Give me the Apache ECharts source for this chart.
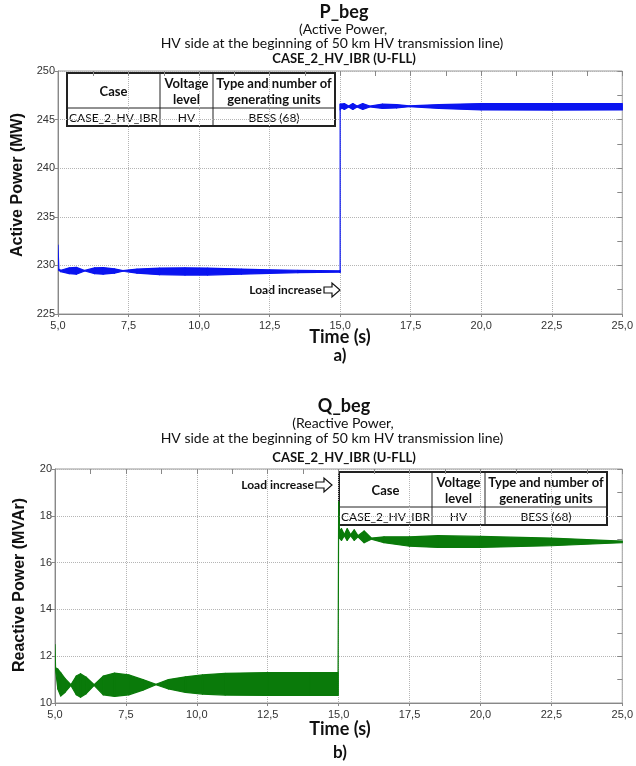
<!DOCTYPE html>
<html>
<head>
<meta charset="utf-8">
<script src="https://cdn.jsdelivr.net/npm/echarts@6/dist/echarts.min.js"></script>
<style>
html,body{margin:0;padding:0;background:#fff;}
#main{width:636px;height:766px;}
</style>
</head>
<body>
<div id="main"></div>
<script>
// ---------- DATA ----------
// Active power P_beg : oscillation envelope (lower / upper), MW
const pTime  = [5.0, 5.03, 5.1, 5.4, 5.65, 5.95, 6.3, 6.6, 7.0, 7.3, 7.8, 8.6, 9.5, 10.3, 11.5, 12.5, 13.5, 14.98, 15.0, 15.0, 15.05, 15.15, 15.3, 15.45, 15.6, 15.8, 16.05, 16.5, 17.0, 17.45, 18.5, 20.0, 22.5, 25.0];
const pLower = [232.1, 229.5, 229.35, 229.15, 229.1, 229.42, 229.15, 229.1, 229.2, 229.4, 229.2, 229.05, 229.0, 229.0, 229.1, 229.18, 229.25, 229.3, 229.3, 246.0, 246.2, 246.05, 246.3, 246.05, 246.3, 246.05, 246.3, 246.15, 246.2, 246.32, 246.15, 246.0, 245.98, 246.0];
const pUpper = [232.1, 229.6, 229.5, 229.75, 229.8, 229.48, 229.75, 229.78, 229.65, 229.47, 229.62, 229.72, 229.75, 229.72, 229.62, 229.55, 229.5, 229.45, 229.45, 246.6, 246.6, 246.65, 246.4, 246.65, 246.4, 246.65, 246.4, 246.6, 246.55, 246.42, 246.55, 246.65, 246.65, 246.65];

// Reactive power Q_beg : oscillation envelope (lower / upper), MVAr
const qTime  = [5.0, 5.02, 5.1, 5.2, 5.35, 5.56, 5.75, 5.9, 6.1, 6.38, 6.7, 7.1, 7.6, 8.1, 8.56, 9.0, 9.6, 10.2, 11.0, 12.5, 14.0, 14.98, 15.0, 15.03, 15.1, 15.2, 15.3, 15.42, 15.55, 15.68, 15.9, 16.15, 16.6, 17.5, 18.5, 20.0, 22.5, 25.0];
const qLower = [12.5, 11.4, 10.6, 10.3, 10.45, 10.75, 10.35, 10.25, 10.4, 10.75, 10.35, 10.28, 10.35, 10.55, 10.78, 10.6, 10.45, 10.38, 10.34, 10.32, 10.33, 10.33, 18.6, 17.05, 16.95, 17.15, 16.95, 17.15, 16.95, 17.1, 16.85, 17.0, 16.85, 16.7, 16.65, 16.65, 16.72, 16.85];
const qUpper = [12.5, 11.5, 11.45, 11.3, 11.05, 10.78, 11.15, 11.25, 11.1, 10.78, 11.15, 11.28, 11.2, 11.0, 10.8, 11.0, 11.12, 11.2, 11.27, 11.3, 11.3, 11.3, 18.6, 17.35, 17.45, 17.2, 17.45, 17.2, 17.4, 17.15, 17.35, 17.05, 17.1, 17.1, 17.15, 17.12, 17.05, 16.92];

// axes
const xMin = 5, xMax = 25, xStep = 2.5;
const pMin = 225, pMax = 250, pStep = 5;
const qMin = 10, qMax = 20, qStep = 2;

// texts
const pTitle = ['P_beg', '(Active Power,', 'HV side at the beginning of 50 km HV transmission line)', 'CASE_2_HV_IBR (U-FLL)'];
const qTitle = ['Q_beg', '(Reactive Power,', 'HV side at the beginning of 50 km HV transmission line)', 'CASE_2_HV_IBR (U-FLL)'];
const pYName = 'Active Power (MW)';
const qYName = 'Reactive Power (MVAr)';
const xName = 'Time (s)';
const panelLabels = ['a)', 'b)'];
const annotation = 'Load increase';
const tableHeader = ['Case', 'Voltage\nlevel', 'Type and number of\ngenerating units'];
const tableRow = ['CASE_2_HV_IBR', 'HV', 'BESS (68)'];

// ---------- CHART ----------
const chart = echarts.init(document.getElementById('main'), null, {renderer: 'canvas'});
const CAL = 'Lato, "Open Sans", sans-serif';
const ARI = '"Liberation Sans", Arial, sans-serif';

const grids = [
  {left: 58, right: 9, top: 71, height: 243},
  {left: 55, right: 10, top: 469, height: 234}
];
const ranges = [[pMin, pMax, pStep], [qMin, qMax, qStep]];
const xAxes = [], yAxes = [];
grids.forEach((g, i) => {
  xAxes.push({
    type: 'value', gridIndex: i, min: xMin, max: xMax, interval: xStep,
    axisLine: {show: true, onZero: false, lineStyle: {color: '#888', width: 1}},
    axisTick: {show: true, length: 3, lineStyle: {color: '#888'}},
    axisLabel: {color: '#333', fontFamily: ARI, fontSize: 11, margin: 6,
      formatter: v => v.toFixed(1).replace('.', ',')},
    splitLine: {show: true, lineStyle: {color: '#b5b5b5', type: [1, 1], width: 1}}
  });
  xAxes.push({
    type: 'value', gridIndex: i, min: xMin, max: xMax, interval: xStep / 2,
    axisLine: {show: false}, axisLabel: {show: false}, splitLine: {show: false},
    axisTick: {show: true, inside: true, length: 5, lineStyle: {color: '#888'}}
  });
  const r = ranges[i];
  yAxes.push({
    type: 'value', gridIndex: i, min: r[0], max: r[1], interval: r[2],
    axisLine: {show: true, onZero: false, lineStyle: {color: '#888', width: 1}},
    axisTick: {show: true, length: 3, lineStyle: {color: '#888'}},
    axisLabel: {color: '#333', fontFamily: ARI, fontSize: 11, margin: 3},
    splitLine: {show: true, lineStyle: {color: '#b5b5b5', type: [1, 1], width: 1}}
  });
  yAxes.push({
    type: 'value', gridIndex: i, min: r[0], max: r[1], interval: r[2] / 2,
    axisLine: {show: false}, axisLabel: {show: false}, splitLine: {show: false},
    axisTick: {show: true, inside: true, length: 5, lineStyle: {color: '#888'}}
  });
});

// envelope band drawn as polygons between consecutive points, through the axis scales
function bandSeries(times, lo, hi, color, gi) {
  const n = times.length;
  return {
    type: 'custom', xAxisIndex: gi * 2, yAxisIndex: gi * 2, silent: true, clip: true,
    data: times.map((t, k) => [t, lo[k], hi[k]]),
    encode: {x: 0, y: [1, 2]},
    renderItem: function (params, api) {
      const k = params.dataIndex;
      if (k >= n - 1) return null;
      const a = api.coord([times[k], lo[k]]);
      const b = api.coord([times[k + 1], lo[k + 1]]);
      const c = api.coord([times[k + 1], hi[k + 1]]);
      const d = api.coord([times[k], hi[k]]);
      return {
        type: 'polygon',
        shape: {points: [a, b, c, d]},
        style: {fill: color, stroke: color, lineWidth: 1.2, lineJoin: 'round'}
      };
    }
  };
}

function titleTexts(lines, ys, cx) {
  const fonts = ['bold 18px ' + CAL, '14px ' + CAL, '14px ' + CAL, 'bold 13px ' + CAL];
  return lines.map((s, k) => ({
    type: 'text', x: cx[k], y: ys[k], silent: true,
    style: {text: s, font: fonts[k], fill: '#111', textAlign: 'center', textVerticalAlign: 'middle'}
  }));
}

function table(x0, y0) {
  const cw = [93, 53, 122], rh = [35, 18];
  const W = cw.reduce((a, b) => a + b, 0), H = rh[0] + rh[1];
  const els = [];
  els.push({type: 'rect', shape: {x: x0, y: y0, width: W, height: H}, style: {fill: '#fff', stroke: '#222', lineWidth: 2}});
  els.push({type: 'line', shape: {x1: x0, y1: y0 + rh[0], x2: x0 + W, y2: y0 + rh[0]}, style: {stroke: '#222', lineWidth: 1}});
  let cx = x0;
  for (let c = 0; c < 3; c++) {
    if (c > 0) els.push({type: 'line', shape: {x1: cx, y1: y0, x2: cx, y2: y0 + H}, style: {stroke: '#222', lineWidth: 1}});
    els.push({type: 'text', x: cx + cw[c] / 2, y: y0 + rh[0] / 2 + 1,
      style: {text: tableHeader[c], font: 'bold 13px ' + CAL, fill: '#111', textAlign: 'center', textVerticalAlign: 'middle', lineHeight: 16}});
    els.push({type: 'text', x: cx + cw[c] / 2, y: y0 + rh[0] + rh[1] / 2 + 1,
      style: {text: tableRow[c], font: '12px ' + CAL, fill: '#111', textAlign: 'center', textVerticalAlign: 'middle'}});
    cx += cw[c];
  }
  return {type: 'group', silent: true, z: 100, children: els};
}

function loadLabel(xr, yc) {
  return {type: 'group', silent: true, z: 100, children: [
    {type: 'text', x: xr - 18, y: yc, style: {text: annotation, font: 'bold 12px ' + CAL, fill: '#111', textAlign: 'right', textVerticalAlign: 'middle'}},
    {type: 'polygon', shape: {points: [[xr - 16, yc - 3], [xr - 8, yc - 3], [xr - 8, yc - 7], [xr, yc], [xr - 8, yc + 7], [xr - 8, yc + 3], [xr - 16, yc + 3]]},
      style: {fill: '#fff', stroke: '#111', lineWidth: 1.2}}
  ]};
}

const graphics = [].concat(
  titleTexts(pTitle, [12, 29, 43, 59], [344, 343, 332, 344]),
  titleTexts(qTitle, [406, 423, 438, 458], [344, 343, 332, 344]),
  [
    {type: 'text', x: 18, y: 185, rotation: Math.PI / 2, style: {text: pYName, font: 'bold 16px ' + ARI, fill: '#111', textAlign: 'center', textVerticalAlign: 'middle'}},
    {type: 'text', x: 20, y: 585, rotation: Math.PI / 2, style: {text: qYName, font: 'bold 16px ' + ARI, fill: '#111', textAlign: 'center', textVerticalAlign: 'middle'}},
    {type: 'text', x: 340, y: 337, style: {text: xName, font: 'bold 18px ' + CAL, fill: '#111', textAlign: 'center', textVerticalAlign: 'middle'}},
    {type: 'text', x: 340, y: 356, style: {text: panelLabels[0], font: 'bold 17px ' + CAL, fill: '#111', textAlign: 'center', textVerticalAlign: 'middle'}},
    {type: 'text', x: 340, y: 729, style: {text: xName, font: 'bold 18px ' + CAL, fill: '#111', textAlign: 'center', textVerticalAlign: 'middle'}},
    {type: 'text', x: 340, y: 753, style: {text: panelLabels[1], font: 'bold 17px ' + CAL, fill: '#111', textAlign: 'center', textVerticalAlign: 'middle'}},
    table(67, 73),
    table(339, 472),
    loadLabel(340, 290),
    loadLabel(332, 485)
  ]
);

chart.setOption({
  animation: false,
  backgroundColor: '#fff',
  grid: grids.map(g => Object.assign({show: true, borderColor: '#999', borderWidth: 1, backgroundColor: 'transparent'}, g)),
  xAxis: xAxes,
  yAxis: yAxes,
  series: [
    bandSeries(pTime, pLower, pUpper, '#0a14f0', 0),
    bandSeries(qTime, qLower, qUpper, '#0a7a0a', 1)
  ],
  graphic: graphics
});
</script>
</body>
</html>
